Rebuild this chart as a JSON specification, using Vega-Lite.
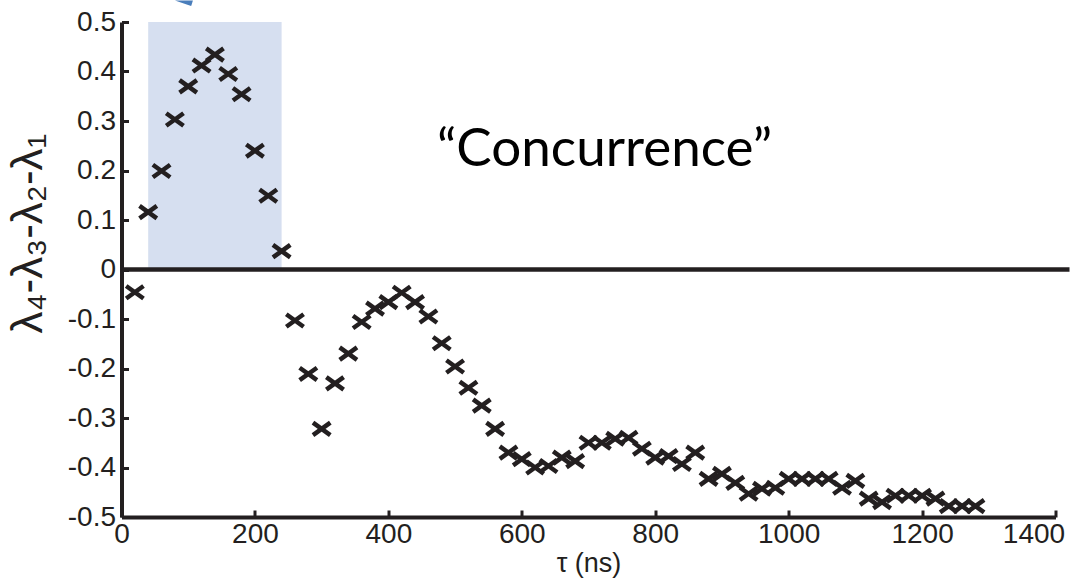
{
  "$schema": "https://vega.github.io/schema/vega-lite/v6.json",
  "width": 934,
  "height": 495,
  "autosize": {"type": "none"},
  "padding": {"left": 121.5, "top": 22, "right": 14.5, "bottom": 69},
  "background": "white",
  "config": {
    "view": {"stroke": null},
    "axis": {
      "grid": false,
      "domainColor": "#231f20",
      "domainWidth": 4,
      "tickColor": "#231f20",
      "tickWidth": 3,
      "tickSize": -7,
      "labelFont": "Liberation Sans",
      "labelFontSize": 28,
      "labelColor": "#231f20",
      "titleFont": "Liberation Sans",
      "titleFontWeight": "normal",
      "titleColor": "#231f20"
    }
  },
  "datasets": {
    "pts": [
      {"t": 20, "v": -0.046}, {"t": 40, "v": 0.116}, {"t": 60, "v": 0.199}, {"t": 80, "v": 0.303},
      {"t": 100, "v": 0.370}, {"t": 120, "v": 0.412}, {"t": 140, "v": 0.434}, {"t": 160, "v": 0.395},
      {"t": 180, "v": 0.354}, {"t": 200, "v": 0.240}, {"t": 220, "v": 0.149}, {"t": 240, "v": 0.037},
      {"t": 260, "v": -0.103}, {"t": 280, "v": -0.211}, {"t": 300, "v": -0.322}, {"t": 320, "v": -0.230},
      {"t": 340, "v": -0.170}, {"t": 360, "v": -0.106}, {"t": 380, "v": -0.079}, {"t": 400, "v": -0.066},
      {"t": 420, "v": -0.047}, {"t": 440, "v": -0.066}, {"t": 460, "v": -0.095}, {"t": 480, "v": -0.149},
      {"t": 500, "v": -0.196}, {"t": 520, "v": -0.239}, {"t": 540, "v": -0.275}, {"t": 560, "v": -0.322},
      {"t": 580, "v": -0.370}, {"t": 600, "v": -0.383}, {"t": 620, "v": -0.400}, {"t": 640, "v": -0.397},
      {"t": 660, "v": -0.380}, {"t": 680, "v": -0.387}, {"t": 700, "v": -0.350}, {"t": 720, "v": -0.350},
      {"t": 740, "v": -0.342}, {"t": 760, "v": -0.340}, {"t": 780, "v": -0.362}, {"t": 800, "v": -0.380},
      {"t": 820, "v": -0.377}, {"t": 840, "v": -0.393}, {"t": 860, "v": -0.370}, {"t": 880, "v": -0.423},
      {"t": 900, "v": -0.413}, {"t": 920, "v": -0.431}, {"t": 940, "v": -0.453}, {"t": 960, "v": -0.443},
      {"t": 980, "v": -0.441}, {"t": 1000, "v": -0.423}, {"t": 1020, "v": -0.423}, {"t": 1040, "v": -0.423},
      {"t": 1060, "v": -0.423}, {"t": 1080, "v": -0.441}, {"t": 1100, "v": -0.427}, {"t": 1120, "v": -0.463},
      {"t": 1140, "v": -0.470}, {"t": 1160, "v": -0.457}, {"t": 1180, "v": -0.457}, {"t": 1200, "v": -0.457},
      {"t": 1220, "v": -0.463}, {"t": 1240, "v": -0.478}, {"t": 1260, "v": -0.478}, {"t": 1280, "v": -0.478}
    ]
  },
  "layer": [
    {
      "data": {"values": [{"x": 40, "x2": 240, "y": 0, "y2": 0.5}]},
      "mark": {"type": "rect", "color": "#d6dff0"},
      "encoding": {
        "x": {"field": "x", "type": "quantitative", "scale": {"domain": [0, 1400], "nice": false},
          "axis": {"values": [0, 200, 400, 600, 800, 1000, 1200, 1400], "format": "d", "title": "τ (ns)", "titleFontSize": 27, "labelPadding": 10, "titlePadding": 2, "labelFlush": false,
            "labelOffset": {"condition": {"test": "datum.value == 1400", "value": -22}, "value": 0}}},
        "x2": {"field": "x2"},
        "y": {"field": "y", "type": "quantitative", "scale": {"domain": [-0.5, 0.5], "nice": false},
          "axis": {"values": [-0.5, -0.4, -0.3, -0.2, -0.1, 0, 0.1, 0.2, 0.3, 0.4, 0.5],
            "labelExpr": "datum.value == 0 ? '0' : replace(format(datum.value, '.1f'), '\u2212', '-')",
            "labelPadding": 13, "labelFlush": false,
            "title": "λ₄-λ₃-λ₂-λ₁", "titleFontSize": 44, "titleAngle": -90,
            "titleX": -80, "titleY": 211, "titleAlign": "center", "titleBaseline": "alphabetic"}},
        "y2": {"field": "y2"}
      }
    },
    {
      "data": {"values": [{"a": 0, "b": 1421, "y": 0}]},
      "mark": {"type": "rule", "color": "#231f20", "strokeWidth": 4.5, "clip": false},
      "encoding": {
        "x": {"field": "a", "type": "quantitative"},
        "x2": {"field": "b"},
        "y": {"field": "y", "type": "quantitative"}
      }
    },
    {
      "data": {"name": "pts"},
      "mark": {"type": "point", "shape": "M-1,-0.72L1,0.72M-1,0.72L1,-0.72", "filled": false, "color": "#231f20", "strokeWidth": 4.5, "size": 300, "opacity": 1},
      "encoding": {
        "x": {"field": "t", "type": "quantitative"},
        "y": {"field": "v", "type": "quantitative"}
      }
    },
    {
      "data": {"values": [{"x": 724, "y": 0.21, "label": "“Concurrence”"}]},
      "mark": {"type": "text", "font": "Lato", "fontSize": 53, "align": "center", "baseline": "alphabetic", "color": "#000000"},
      "encoding": {
        "x": {"field": "x", "type": "quantitative"},
        "y": {"field": "y", "type": "quantitative"},
        "text": {"field": "label"}
      }
    },
    {
      "data": {"values": [{"x": 93.6, "y": 0.538}]},
      "mark": {"type": "point", "shape": "M-1,-0.3L1,-0.3L0.8,0.3Z", "filled": true, "color": "#4a7ebb", "size": 324, "opacity": 1, "clip": false},
      "encoding": {
        "x": {"field": "x", "type": "quantitative"},
        "y": {"field": "y", "type": "quantitative"}
      }
    }
  ]
}
